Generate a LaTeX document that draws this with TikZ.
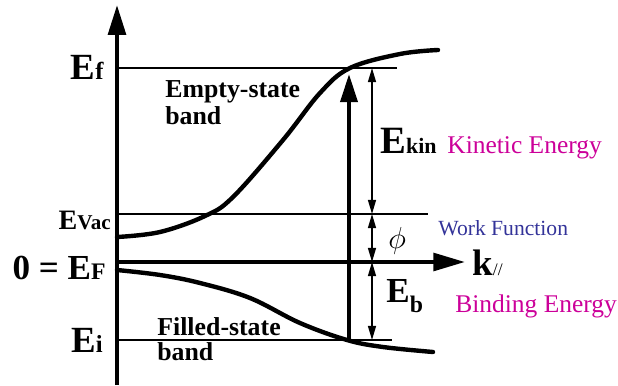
\documentclass[tikz,border=0pt]{standalone}
\usepackage{fontspec}
\setmainfont{Liberation Serif}
\usetikzlibrary{arrows.meta}
\definecolor{mMagenta}{HTML}{CC0099}
\definecolor{mBlue}{HTML}{333399}
\newcommand{\Elev}[3]{{\fontsize{#1}{#1}\selectfont E}{\fontsize{#2}{#2}\selectfont #3}}

\begin{document}
\begin{tikzpicture}[x=0.02cm, y=-0.02cm,
      lvl/.style={line width=1.1pt},
      band/.style={line width=2.5pt, line cap=round},
      thick axis/.style={line width=2.3pt},
      dim/.style={line width=0.9pt, {Triangle[length=8pt,width=4.5pt]}-{Triangle[length=8pt,width=4.5pt]}},
      lab/.style={inner sep=0pt, font=\bfseries},
      txt/.style={inner sep=0pt, font=\fontsize{14.5}{14.5}\selectfont}]
    \useasboundingbox (0,0) rectangle (618,385);
    \coordinate (o) at (117,385);  \coordinate (top) at (117,5);
    \coordinate (f0) at (117,68);  \coordinate (f1) at (397,68);
    \coordinate (v0) at (117,214); \coordinate (v1) at (428,214);
    \coordinate (F0) at (117,262); \coordinate (F1) at (465,262);
    \coordinate (i0) at (117,340); \coordinate (i1) at (392,340);
    \coordinate (a0) at (349,340); \coordinate (a1) at (349,74);
    \coordinate (d1) at (372,68);  \coordinate (d2) at (372,214);
    \coordinate (d3) at (372,262); \coordinate (d4) at (372,340);
    \draw[thick axis, -{Triangle[length=17pt,width=10pt]}] (o) -- (top);
    \draw[lvl] (f0) -- (f1);
    \draw[lvl] (v0) -- (v1);
    \draw[lvl] (i0) -- (i1);
    \draw[thick axis, -{Triangle[length=18pt,width=10pt]}] (F0) -- (F1);
    \draw[band] plot[smooth, tension=0.6] coordinates {(117,237) (160,232) (205,216) (233,197)
      (283,140) (320,93) (350,68) (400,54) (438,50)};
    \draw[band] plot[smooth, tension=0.6] coordinates {(117,270) (160,275) (200,283) (250,298)
      (300,323) (347,340) (383,347) (433,352)};
    \draw[thick axis, -{Triangle[length=16pt,width=9.6pt]}] (a0) -- (a1);
    \draw[dim] (d1) -- (d2);
    \draw[dim] (d2) -- (d3);
    \draw[dim] (d3) -- (d4);
    \node[lab, anchor=base east] (lf) at (104,80) {\Elev{21}{14}{f}};
    \node[lab, anchor=base east] (lvac) at (111,229) {\Elev{16}{12}{Vac}};
    \node[lab, anchor=base east] (lF) at (106,279) {\fontsize{20}{20}\selectfont 0 = \Elev{20}{13.5}{F}};
    \node[lab, anchor=base east] (li) at (103,352) {\Elev{21}{14}{i}};
    \node[lab, anchor=base west] (lkin) at (380,153) {\Elev{22}{12.5}{kin}};
    \node[lab, anchor=base west] (lb) at (386,302)
      {\fontsize{20}{20}\selectfont E\raisebox{-5.7pt}{\fontsize{13.5}{13.5}\selectfont b}};
    \node[lab, anchor=base west] (lk) at (472,275)
      {\fontsize{21}{21}\selectfont k{\fontsize{10}{10}\selectfont\mdseries //}};
    \node[inner sep=0pt, anchor=base west] (lphi) at (388,248) {\fontsize{19}{19}\selectfont $\phi$};
    \node[lab, anchor=north west, align=left, font=\bfseries\fontsize{14.7}{15.3}\selectfont]
      (empty) at (165,80) {Empty-state\\band};
    \node[lab, anchor=north west, align=left, font=\bfseries\fontsize{14.7}{14.2}\selectfont]
      (filled) at (157,317) {Filled-state\\band};
    \node[txt, text=mMagenta, anchor=base west] (tkin) at (447,153) {Kinetic Energy};
    \node[txt, text=mBlue, anchor=base west, font=\fontsize{12.3}{12.3}\selectfont] (twf) at (438,235) {Work Function};
    \node[txt, text=mMagenta, anchor=base west] (tbind) at (455,312) {Binding Energy};
  \end{tikzpicture}
\end{document}
